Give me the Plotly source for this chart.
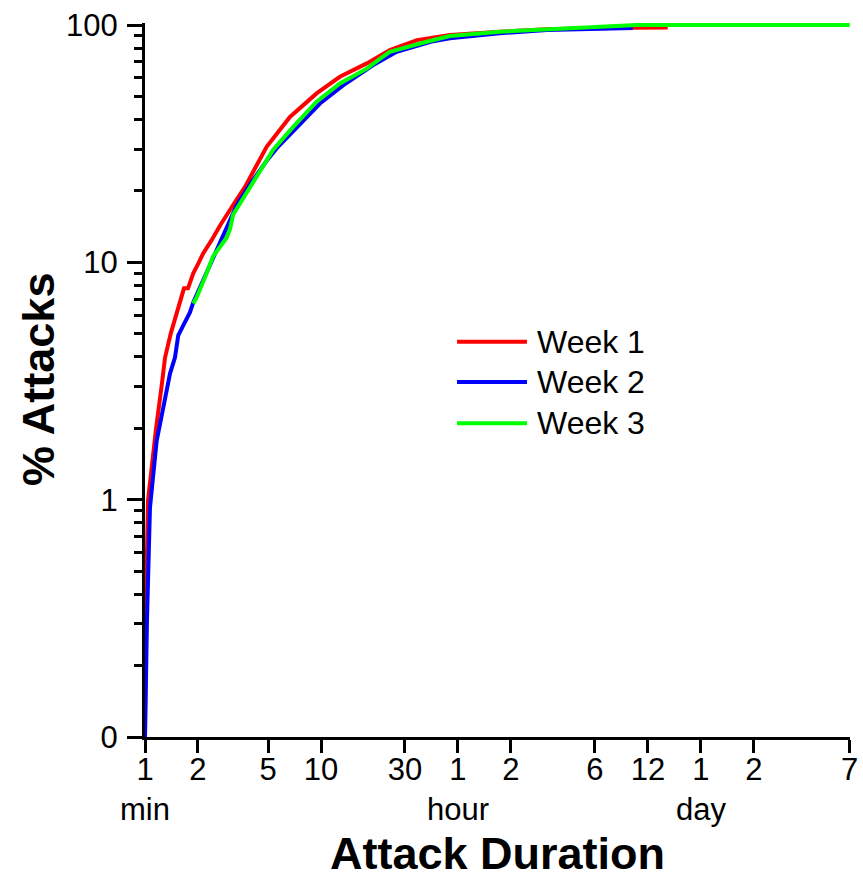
import math
import plotly.graph_objects as go

# ---- data (duration in minutes, cumulative % of attacks) ----
week1_x = [1.0, 1.013, 1.04, 1.096, 1.155, 1.244, 1.30, 1.40, 1.47, 1.58, 1.665, 1.755, 1.88, 2.01,
           2.14, 2.39, 2.67, 3.16, 3.70, 4.91, 6.66, 9.44, 12.8, 18.2, 21.6, 24.6, 35.1, 54.0,
           103.7, 191.8, 383.6, 933]
week1_y = [0.1, 0.375, 0.99, 1.46, 1.99, 3.03, 3.97, 5.01, 5.69, 6.91, 7.77, 7.77, 8.99, 9.9,
           10.9, 12.4, 14.3, 17.4, 20.8, 30.7, 41.0, 51.5, 60.5, 68.9, 73.8, 78.5, 86.4, 90.7,
           93.7, 95.9, 97.1, 97.6]

week2_x = [1.0, 1.026, 1.067, 1.11, 1.165, 1.27, 1.387, 1.48, 1.545, 1.65, 1.80, 1.88, 2.10, 2.44,
           2.67, 2.91, 3.32, 3.95, 4.91, 5.59, 7.27, 9.86, 13.4, 19.8, 26.9, 43.4, 54.0, 103.7,
           191.8, 383.6, 590]
week2_y = [0.1, 0.308, 0.925, 1.20, 1.77, 2.44, 3.40, 3.97, 4.92, 5.42, 6.15, 6.78, 8.15, 10.4,
           12.1, 14.1, 17.4, 21.3, 26.8, 30.2, 37.0, 46.7, 55.8, 67.8, 77.1, 85.5, 88.0, 92.3,
           95.3, 96.7, 97.1]

week3_x = [1.88, 1.966, 2.19, 2.44, 2.91, 3.04, 3.17, 3.46, 3.95, 5.35, 6.95, 9.44, 12.8, 18.2,
           21.6, 24.6, 39.8, 54.0, 103.7, 175, 350, 622, 10080]
week3_y = [6.71, 7.12, 8.64, 10.6, 12.7, 13.8, 15.9, 17.7, 20.8, 29.8, 37.2, 47.5, 56.7, 65.5,
           72.0, 77.1, 85.0, 89.9, 93.7, 95.3, 98.4, 100, 100]

series_names = ["Week 1", "Week 2", "Week 3"]
series_colors = ["#ff0000", "#0000ff", "#00ff00"]

x_tickvals = [1, 2, 5, 10, 30, 60, 120, 360, 720, 1440, 2880, 10080]
x_ticktext = ["1", "2", "5", "10", "30", "1", "2", "6", "12", "1", "2", "7"]
unit_labels = ["min", "hour", "day"]
unit_positions = [1, 60, 1440]

y_tickvals = [0.1, 1, 10, 100]
y_ticktext = ["0", "1", "10", "100"]
y_minor = [m * d for d in (0.1, 1, 10) for m in range(2, 10)]

FONT = "Liberation Sans, Arial, Helvetica, sans-serif"

fig = go.Figure()
for xs, ys, name, col in zip([week1_x, week2_x, week3_x], [week1_y, week2_y, week3_y],
                             series_names, series_colors):
    fig.add_trace(go.Scatter(x=xs, y=ys, mode="lines", name=name,
                             line=dict(color=col, width=4), showlegend=False))

fig.update_layout(
    width=863, height=877,
    margin=dict(l=145, r=13, t=23, b=140, autoexpand=False),
    paper_bgcolor="white", plot_bgcolor="white",
    font=dict(family=FONT, color="black", size=31),
    xaxis=dict(type="log", range=[0, math.log10(10080) + 0.002], automargin=False,
               tickmode="array", tickvals=x_tickvals, ticktext=x_ticktext,
               ticks="outside", ticklen=13, tickwidth=3, tickcolor="black",
               ticklabelstandoff=-10,
               showline=True, linewidth=3, linecolor="black",
               showgrid=False, zeroline=False,
               tickfont=dict(size=31, family=FONT)),
    yaxis=dict(type="log", range=[-1, 2.0085], automargin=False,
               tickmode="array", tickvals=y_tickvals, ticktext=y_ticktext,
               ticks="outside", ticklen=15, tickwidth=3, tickcolor="black",
               ticklabelstandoff=3,
               showline=True, linewidth=3, linecolor="black",
               showgrid=False, zeroline=False,
               tickfont=dict(size=31, family=FONT),
               minor=dict(tickmode="array", tickvals=y_minor, ticks="outside",
                          ticklen=8, tickwidth=3, tickcolor="black", showgrid=False)),
)

# unit labels under the x ticks
for lab, pos in zip(unit_labels, unit_positions):
    fig.add_annotation(text=lab, xref="x", x=math.log10(pos), yref="paper", y=0,
                       yshift=-72, yanchor="middle", xanchor="center", showarrow=False,
                       font=dict(size=31, family=FONT))

# axis titles
fig.add_annotation(text="<b>Attack Duration</b>", xref="paper", x=0.5, yref="paper", y=0,
                   yshift=-116, yanchor="middle", xanchor="center", showarrow=False,
                   font=dict(size=45, family=FONT))
fig.add_annotation(text="<b>% Attacks</b>", xref="paper", x=0, xshift=-107, yref="paper", y=0.5,
                   textangle=-90, xanchor="center", yanchor="middle", showarrow=False,
                   font=dict(size=45, family=FONT))

# legend drawn as line samples + labels
legend_y = [0.5534, 0.4972, 0.4396]
for name, col, ly in zip(series_names, series_colors, legend_y):
    fig.add_shape(type="line", xref="paper", yref="paper", x0=0.4426, x1=0.5418, y0=ly, y1=ly,
                  line=dict(color=col, width=4))
    fig.add_annotation(text=name, xref="paper", x=0.553, yref="paper", y=ly, xanchor="left",
                       yanchor="middle", showarrow=False, font=dict(size=32, family=FONT))

fig.write_html("out.html", config={"displayModeBar": False},
               post_script="document.body.style.margin='0';document.body.style.overflow='hidden';")
